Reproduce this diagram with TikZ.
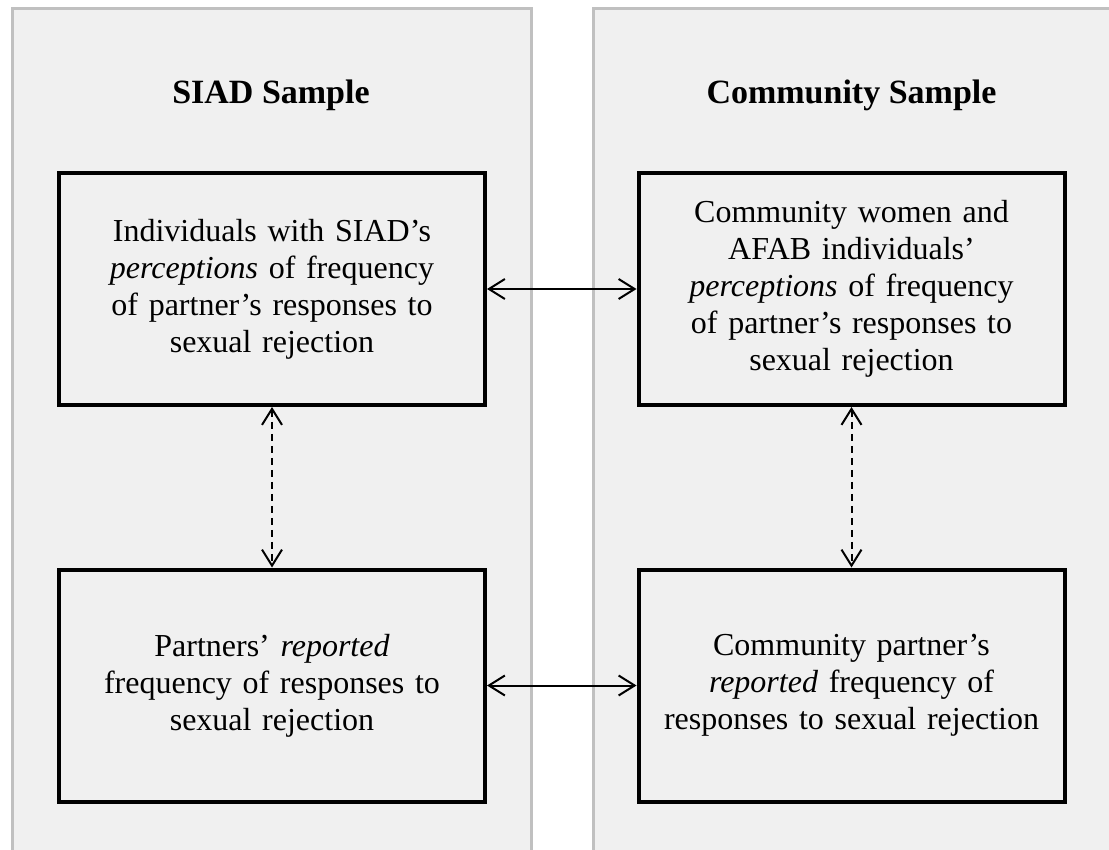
\documentclass[tikz,border=0pt]{standalone}
\usepackage{fontspec}
\setmainfont{Liberation Serif}
\usetikzlibrary{arrows.meta}
\definecolor{panelfill}{HTML}{F0F0F0}
\definecolor{panelline}{HTML}{C0C0C0}
\newcommand{\bodyfont}{\fontsize{16}{18.5}\selectfont}

\begin{document}
\begin{tikzpicture}[x=0.5pt,y=-0.5pt,
  panel/.style={fill=panelfill,draw=panelline,line width=1.5pt},
  head/.style={font=\fontsize{17}{20}\selectfont\bfseries},
  sbox/.style={draw,line width=2pt,minimum width=213pt,minimum height=116pt,
    text width=195pt,align=center,inner sep=0pt,font=\bodyfont},
  link/.style={line width=1pt,
    {Straight Barb[length=8pt,width=10pt]}-{Straight Barb[length=8pt,width=10pt]}},
  dlink/.style={link,dash pattern=on 3.5pt off 2.5pt}]
\useasboundingbox (0,0) rectangle (1109,850);
\clip (0,0) rectangle (1109,850);
% the two samples
\path[panel] (12,8.5) rectangle (531,880);
\path[panel] (593,8.5) rectangle (1130,880);
\node[head] (siadhead) at (271,95) {SIAD Sample};
\node[head] (commhead) at (851.5,95) {Community Sample};
% perceptions (top row)
\node[sbox] (siadperc) at (272,289) {Individuals with SIAD's\\
  \textit{perceptions} of frequency\\ of partner's responses to\\ sexual rejection};
\node[sbox] (commperc) at (851.5,289) {Community women and\\ AFAB individuals'\\
  \textit{perceptions} of frequency\\ of partner's responses to\\ sexual rejection};
% partner reports (bottom row)
\node[sbox] (siadrep) at (272,685.5) {Partners' \textit{reported}\\
  frequency of responses to\\ sexual rejection};
\node[sbox] (commrep) at (851.5,685.5) {Community partner's\\
  \textit{reported} frequency of\\ responses to sexual rejection};
% comparisons
\draw[link] (siadperc) -- (commperc);
\draw[link] (siadrep) -- (commrep);
\draw[dlink] (siadperc) -- (siadrep);
\draw[dlink] (commperc) -- (commrep);
\end{tikzpicture}
\end{document}
